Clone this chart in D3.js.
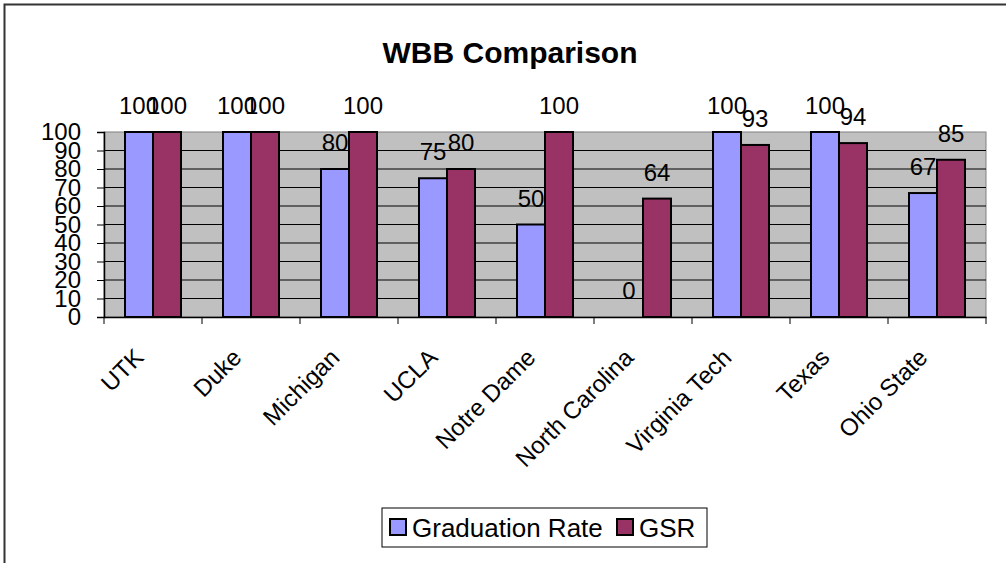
<!DOCTYPE html>
<html>
<head>
<meta charset="utf-8">
<script src="https://cdn.jsdelivr.net/npm/d3@7"></script>
<style>
  body { margin: 0; background: #fff; }
  svg { display: block; font-family: "Liberation Sans", Arial, sans-serif; }
</style>
</head>
<body>
<svg id="chart" width="1006" height="563"></svg>
<script>
var schools = ["UTK", "Duke", "Michigan", "UCLA", "Notre Dame", "North Carolina", "Virginia Tech", "Texas", "Ohio State"];
var gradRate = [100, 100, 80, 75, 50, 0, 100, 100, 67];
var gsr = [100, 100, 100, 80, 100, 64, 93, 94, 85];
var seriesNames = ["Graduation Rate", "GSR"];
var seriesColors = ["#9999ff", "#993366"];
var yTicks = [0, 10, 20, 30, 40, 50, 60, 70, 80, 90, 100];

var plot = { left: 104, right: 986, top: 132, bottom: 317 };

var svg = d3.select("svg#chart");

// outer frame (only top/left show in the picture)
svg.append("rect")
    .attr("x", 4.5).attr("y", 4.5)
    .attr("width", 1010).attr("height", 570)
    .style("fill", "none")
    .style("stroke", "#333")
    .style("stroke-width", 2);

svg.append("text")
    .attr("x", 510)
    .attr("y", 63)
    .style("text-anchor", "middle")
    .style("font-size", "30px")
    .style("font-weight", "bold")
    .text("WBB Comparison");

var xScale = d3.scaleBand()
    .domain(schools)
    .range([plot.left, plot.right])
    .paddingInner(0)
    .paddingOuter(0);

var xInner = d3.scaleBand()
    .domain([0, 1])
    .range([0, 56]);

var yScale = d3.scaleLinear()
    .domain([0, 100])
    .range([plot.bottom, plot.top]);

// plot background
svg.append("rect")
    .attr("x", plot.left).attr("y", plot.top)
    .attr("width", plot.right - plot.left)
    .attr("height", plot.bottom - plot.top)
    .style("fill", "#c0c0c0")
    .style("stroke", "#808080")
    .style("stroke-width", 1);

// gridlines
svg.append("g")
    .selectAll("line")
    .data(yTicks.slice(1, -1))
    .enter()
    .append("line")
    .attr("x1", plot.left).attr("x2", plot.right)
    .attr("y1", d => yScale(d)).attr("y2", d => yScale(d))
    .style("stroke", "#000")
    .style("stroke-width", 1);

// y axis
var yAxis = svg.append("g")
    .attr("transform", "translate(" + plot.left + ",0)")
    .call(d3.axisLeft(yScale).tickValues(yTicks).tickSize(7).tickPadding(16));
yAxis.select(".domain").style("stroke", "#000").style("stroke-width", 1.5);
yAxis.selectAll("text")
    .style("font-size", "24px")
    .style("font-family", "Liberation Sans, Arial, sans-serif")
    .attr("fill", "#000");

// bars
var series = [gradRate, gsr];
var groups = svg.append("g")
    .selectAll("g")
    .data(schools)
    .enter()
    .append("g")
    .attr("transform", d => "translate(" + (xScale(d) + (xScale.bandwidth() - 56) / 2) + ",0)");

groups.selectAll("rect")
    .data((d, i) => series.map((s, k) => ({ k: k, v: s[i] })))
    .enter()
    .append("rect")
    .attr("x", d => xInner(d.k))
    .attr("y", d => yScale(d.v))
    .attr("width", xInner.bandwidth())
    .attr("height", d => yScale(0) - yScale(d.v))
    .style("fill", d => seriesColors[d.k])
    .style("stroke", "#000")
    .style("stroke-width", 2);

groups.selectAll("text")
    .data((d, i) => series.map((s, k) => ({ k: k, v: s[i] })))
    .enter()
    .append("text")
    .attr("x", d => xInner(d.k) + xInner.bandwidth() / 2)
    .attr("y", d => yScale(d.v) - 18)
    .style("text-anchor", "middle")
    .style("font-size", "24px")
    .text(d => d.v);

// x axis
var xAxis = svg.append("g")
    .attr("transform", "translate(0," + plot.bottom + ")")
    .call(d3.axisBottom(xScale).tickSize(0).tickFormat(""));
xAxis.select(".domain").style("stroke", "#000").style("stroke-width", 1.5);

svg.append("g")
    .selectAll("line")
    .data(d3.range(schools.length + 1))
    .enter()
    .append("line")
    .attr("x1", i => plot.left + i * xScale.step())
    .attr("x2", i => plot.left + i * xScale.step())
    .attr("y1", plot.bottom)
    .attr("y2", plot.bottom + 7)
    .style("stroke", "#000")
    .style("stroke-width", 1);

svg.append("g")
    .selectAll("text")
    .data(schools)
    .enter()
    .append("text")
    .attr("transform", d => "translate(" + (xScale(d) + xScale.bandwidth() / 2 - 8) + "," + (plot.bottom + 42) + ") rotate(-45)")
    .style("text-anchor", "end")
    .style("font-size", "24px")
    .text(d => d);

// legend
var legend = svg.append("g").attr("transform", "translate(382,508)");
legend.append("rect")
    .attr("width", 325).attr("height", 39)
    .style("fill", "#fff")
    .style("stroke", "#000")
    .style("stroke-width", 1);

var legendX = [8, 235];
seriesNames.forEach(function(name, k) {
    legend.append("rect")
        .attr("x", legendX[k]).attr("y", 11)
        .attr("width", 16).attr("height", 16)
        .style("fill", seriesColors[k])
        .style("stroke", "#000")
        .style("stroke-width", 2);
    legend.append("text")
        .attr("x", legendX[k] + 22)
        .attr("y", 29)
        .style("font-size", "26px")
        .text(name);
});
</script>
</body>
</html>
